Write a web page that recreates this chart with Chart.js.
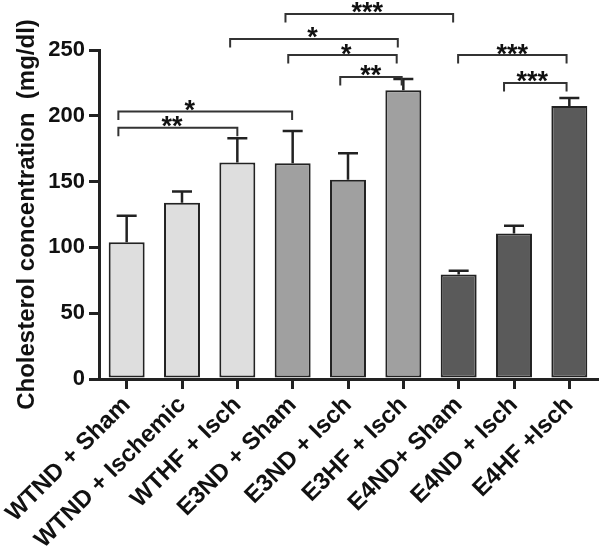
<!DOCTYPE html>
<html>
<head>
<meta charset="utf-8">
<script src="https://cdn.jsdelivr.net/npm/chart.js@4.4.1/dist/chart.umd.min.js"></script>
<style>
    body { margin: 0; background: #fff; }
    #wrap { width: 600px; height: 548px; }
</style>
</head>
<body>
<div id="wrap"><canvas id="cholChart" width="600" height="548"></canvas></div>
<script>
// groups on the x axis
const groups = ['WTND + Sham', 'WTND + Ischemic', 'WTHF + Isch', 'E3ND + Sham', 'E3ND + Isch',
    'E3HF + Isch', 'E4ND+ Sham', 'E4ND + Isch', 'E4HF +Isch'];
// mean cholesterol (mg/dl) and the upper error (SEM)
const means = [104, 134, 164.5, 164, 151.5, 219.5, 79.5, 110.5, 207.5];
const sem = [20, 8.5, 18.5, 24.5, 20, 8.5, 2.8, 6, 6];
const barColors = ['#dedede', '#dedede', '#dedede', '#a0a0a0', '#a0a0a0', '#a0a0a0', '#5a5a5a', '#5a5a5a', '#5a5a5a'];
const yTicks = [0, 50, 100, 150, 200, 250];

// significance brackets: from/to are (fractional) category indexes, level in mg/dl
const sigFrom = [-0.15, -0.15, 2.87, 1.87, 2.92, 3.86, 5.99, 6.82];
const sigTo = [2.99, 2.0, 5.9, 4.9, 4.88, 4.97, 7.95, 7.95];
const sigLevel = [203.3, 191, 277.4, 258.4, 246.2, 229.5, 246.2, 225];
const sigStarAt = [1.14, 0.82, 4.35, 3.36, 3.97, 4.41, 6.97, 7.33];
const sigText = ['*', '**', '***', '*', '*', '**', '***', '***'];

const errorBars = {
    id: 'errorBars',
    afterDatasetsDraw(chart) {
        const ctx = chart.ctx;
        const y = chart.scales.y;
        const meta = chart.getDatasetMeta(0);
        ctx.save();
        ctx.strokeStyle = '#222';
        ctx.lineWidth = 2.5;
        meta.data.forEach((bar, i) => {
            const top = y.getPixelForValue(means[i]);
            const hi = y.getPixelForValue(means[i] + sem[i]);
            ctx.beginPath();
            ctx.moveTo(bar.x, top);
            ctx.lineTo(bar.x, hi);
            ctx.moveTo(bar.x - 10, hi);
            ctx.lineTo(bar.x + 10, hi);
            ctx.stroke();
        });
        ctx.restore();
    }
};

const brackets = {
    id: 'brackets',
    afterDraw(chart) {
        const ctx = chart.ctx;
        const x = chart.scales.x;
        const y = chart.scales.y;
        ctx.save();
        ctx.strokeStyle = '#333';
        ctx.lineWidth = 2;
        ctx.fillStyle = '#111';
        ctx.font = 'bold 27px "Liberation Sans", Arial, sans-serif';
        ctx.textAlign = 'center';
        ctx.textBaseline = 'alphabetic';
        for (let i = 0; i < sigText.length; i++) {
            const x1 = x.getPixelForValue(sigFrom[i]);
            const x2 = x.getPixelForValue(sigTo[i]);
            const yy = y.getPixelForValue(sigLevel[i]);
            const drop = y.getPixelForValue(sigLevel[i] - 6.5);
            ctx.beginPath();
            ctx.moveTo(x1, drop);
            ctx.lineTo(x1, yy);
            ctx.lineTo(x2, yy);
            ctx.lineTo(x2, drop);
            ctx.stroke();
            ctx.fillText(sigText[i], x.getPixelForValue(sigStarAt[i]), yy + 7.5);
        }
        ctx.restore();
    }
};

const ctx = document.getElementById('cholChart').getContext('2d');
new Chart(ctx, {
    type: 'bar',
    data: {
        labels: groups,
        datasets: [{
            data: means,
            backgroundColor: barColors,
            borderColor: '#222',
            borderWidth: 2,
            borderSkipped: false,
            barPercentage: 0.65,
            categoryPercentage: 1
        }]
    },
    options: {
        responsive: false,
        animation: false,
        layout: { padding: { top: 50, right: 3, left: 0, bottom: 0 } },
        plugins: {
            legend: { display: false },
            tooltip: { enabled: false }
        },
        scales: {
            x: {
                afterFit: (scale) => { scale.height = 169; },
                grid: { display: true, drawOnChartArea: false, offset: false, tickLength: 10, lineWidth: 3, color: '#222' },
                border: { display: true, width: 3, color: '#222' },
                ticks: {
                    autoSkip: false,
                    minRotation: 45,
                    maxRotation: 45,
                    padding: 2,
                    color: '#111',
                    font: { family: '"Liberation Sans", Arial, sans-serif', size: 24, weight: 'bold' }
                }
            },
            y: {
                min: 0,
                max: 250,
                afterFit: (scale) => { scale.width = 99; },
                afterBuildTicks: (scale) => { scale.ticks = yTicks.map(v => ({ value: v })); },
                grid: { display: true, drawOnChartArea: false, tickLength: 10, lineWidth: 3, color: '#222' },
                border: { display: true, width: 3, color: '#222' },
                ticks: {
                    padding: 4,
                    color: '#111',
                    font: { family: '"Liberation Sans", Arial, sans-serif', size: 22, weight: 'bold' }
                },
                title: {
                    display: true,
                    text: 'Cholesterol concentration  (mg/dl)',
                    color: '#111',
                    padding: { top: 13, bottom: 0 },
                    font: { family: '"Liberation Sans", Arial, sans-serif', size: 24, weight: 'bold' }
                }
            }
        }
    },
    plugins: [errorBars, brackets]
});
</script>
</body>
</html>
